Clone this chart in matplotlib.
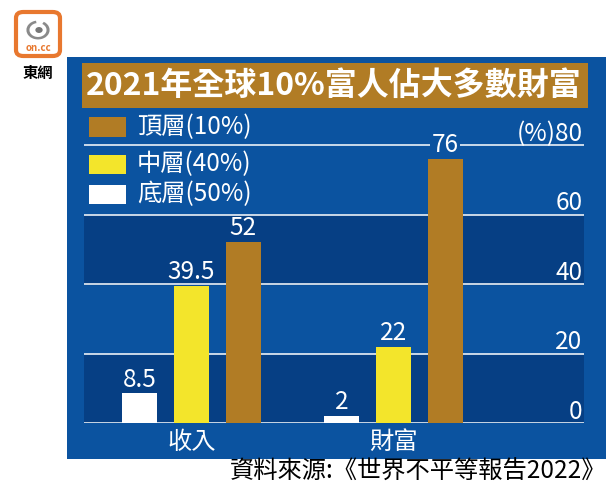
import matplotlib
matplotlib.use("Agg")
import matplotlib.pyplot as plt
from matplotlib.patches import Rectangle, FancyBboxPatch, Circle, Wedge
import numpy as np

plt.rcParams['font.family'] = ['Noto Sans CJK TC', 'DejaVu Sans']

# data
categories = ['收入', '財富']
series_names = ['底層(50%)', '中層(40%)', '頂層(10%)']
bottom_50 = [8.5, 2]
middle_40 = [39.5, 22]
top_10 = [52, 76]
value_labels = [['8.5', '2'], ['39.5', '22'], ['52', '76']]
y_ticks = [0, 20, 40, 60, 80]
y_tick_labels = ['0', '20', '40', '60', '(%)80']
title = '2021年全球10%富人佔大多數財富'
source = '資料來源:《世界不平等報告2022》'

c_light = '#0B53A0'
c_dark = '#063F84'
c_gold = '#B17C25'
c_yellow = '#F3E52B'
c_white = '#FFFFFF'
colors = [c_white, c_yellow, c_gold]

W, H = 609, 497
fig = plt.figure(figsize=(W / 100, H / 100), dpi=100)
fig.patch.set_facecolor('white')


def fx(px):
    return px / W


def fy(py):
    return 1 - py / H


# blue panel
fig.patches.append(Rectangle((fx(67), fy(459)), fx(606) - fx(67), fy(57) - fy(459),
                             transform=fig.transFigure, facecolor=c_light, edgecolor='none', zorder=0))
# title box
fig.patches.append(Rectangle((fx(82), fy(108)), fx(588) - fx(82), fy(63) - fy(108),
                             transform=fig.transFigure, facecolor=c_gold, edgecolor='none', zorder=1))
fig.text(fx(334), fy(86), title, color='white', fontsize=23, fontweight='bold',
         ha='center', va='center', zorder=2)

# logo
fig.patches.append(FancyBboxPatch((fx(16), fy(56)), fx(60) - fx(16), fy(12) - fy(56),
                                  boxstyle='round,pad=0,rounding_size=0.012',
                                  transform=fig.transFigure, facecolor='white',
                                  edgecolor='#E8782F', linewidth=3, zorder=2))
fig.patches.append(Wedge((fx(38), fy(30)), 0.019, 100, 420, width=0.005,
                         transform=fig.transFigure, facecolor='#8A8A8A', edgecolor='none', zorder=3))
fig.patches.append(Circle((fx(39), fy(30)), 0.006, transform=fig.transFigure,
                          facecolor='#777777', edgecolor='none', zorder=3))
fig.text(fx(38), fy(48), 'on.cc', color='#E8782F', fontsize=7, fontweight='bold',
         ha='center', va='center', zorder=3)
fig.text(fx(38), fy(73), '東網', color='black', fontsize=11, fontweight='bold',
         ha='center', va='center')

# plot axes
ax_left, ax_right, ax_bottom = 84, 584, 423
ymax = 88
ax_top = ax_bottom - ymax * 3.475
ax = fig.add_axes([fx(ax_left), fy(ax_bottom), fx(ax_right) - fx(ax_left), fy(ax_top) - fy(ax_bottom)])
ax.set_zorder(2)
ax.set_facecolor('none')
ax.set_xlim(-0.532, 1.943)
ax.set_ylim(0, ymax)
for s in ax.spines.values():
    s.set_visible(False)

ax.axhspan(0, 20, color=c_dark, zorder=0)
ax.axhspan(40, 60, color=c_dark, zorder=0)
for v in y_ticks:
    ax.axhline(v, color='white', linewidth=1.1, zorder=1)

x = np.arange(len(categories))
step = 0.257
width = 0.173
for i, vals in enumerate([bottom_50, middle_40, top_10]):
    pos = x + (i - 1) * step
    ax.bar(pos, vals, width=width, color=colors[i], zorder=2)
    for p, v, lab in zip(pos, vals, value_labels[i]):
        ax.annotate(lab, (p, v), xytext=(0, 5), textcoords='offset points',
                    ha='center', va='baseline', color='white', fontsize=17.5, zorder=4,
                    bbox=dict(facecolor=c_light, edgecolor='none', pad=1) if v > 70 else None)

# y tick labels on the right, above the grid lines
for v, lab in zip(y_ticks, y_tick_labels):
    ax.annotate(lab, (1.0, v), xycoords=ax.get_yaxis_transform(), xytext=(-1, 3),
                textcoords='offset points', ha='right', va='baseline', color='white', fontsize=17.5)

ax.set_yticks([])
ax.set_xticks(x)
ax.set_xticklabels(categories, color='white', fontsize=17.5)
ax.tick_params(axis='x', length=0, pad=4)

# legend
legend_rows = [(127, 2), (164, 1), (194, 0)]
for ry, idx in legend_rows:
    fig.patches.append(Rectangle((fx(89), fy(ry + 9.5)), fx(126) - fx(89), fy(ry - 9.5) - fy(ry + 9.5),
                                 transform=fig.transFigure, facecolor=colors[idx], edgecolor='none', zorder=3))
    fig.text(fx(137), fy(ry), series_names[idx], color='white', fontsize=17.5,
             ha='left', va='center', zorder=3)

# source
fig.text(fx(606), fy(472), source, color='black', fontsize=17.5, ha='right', va='center')

fig.savefig('out.png', dpi=100)
